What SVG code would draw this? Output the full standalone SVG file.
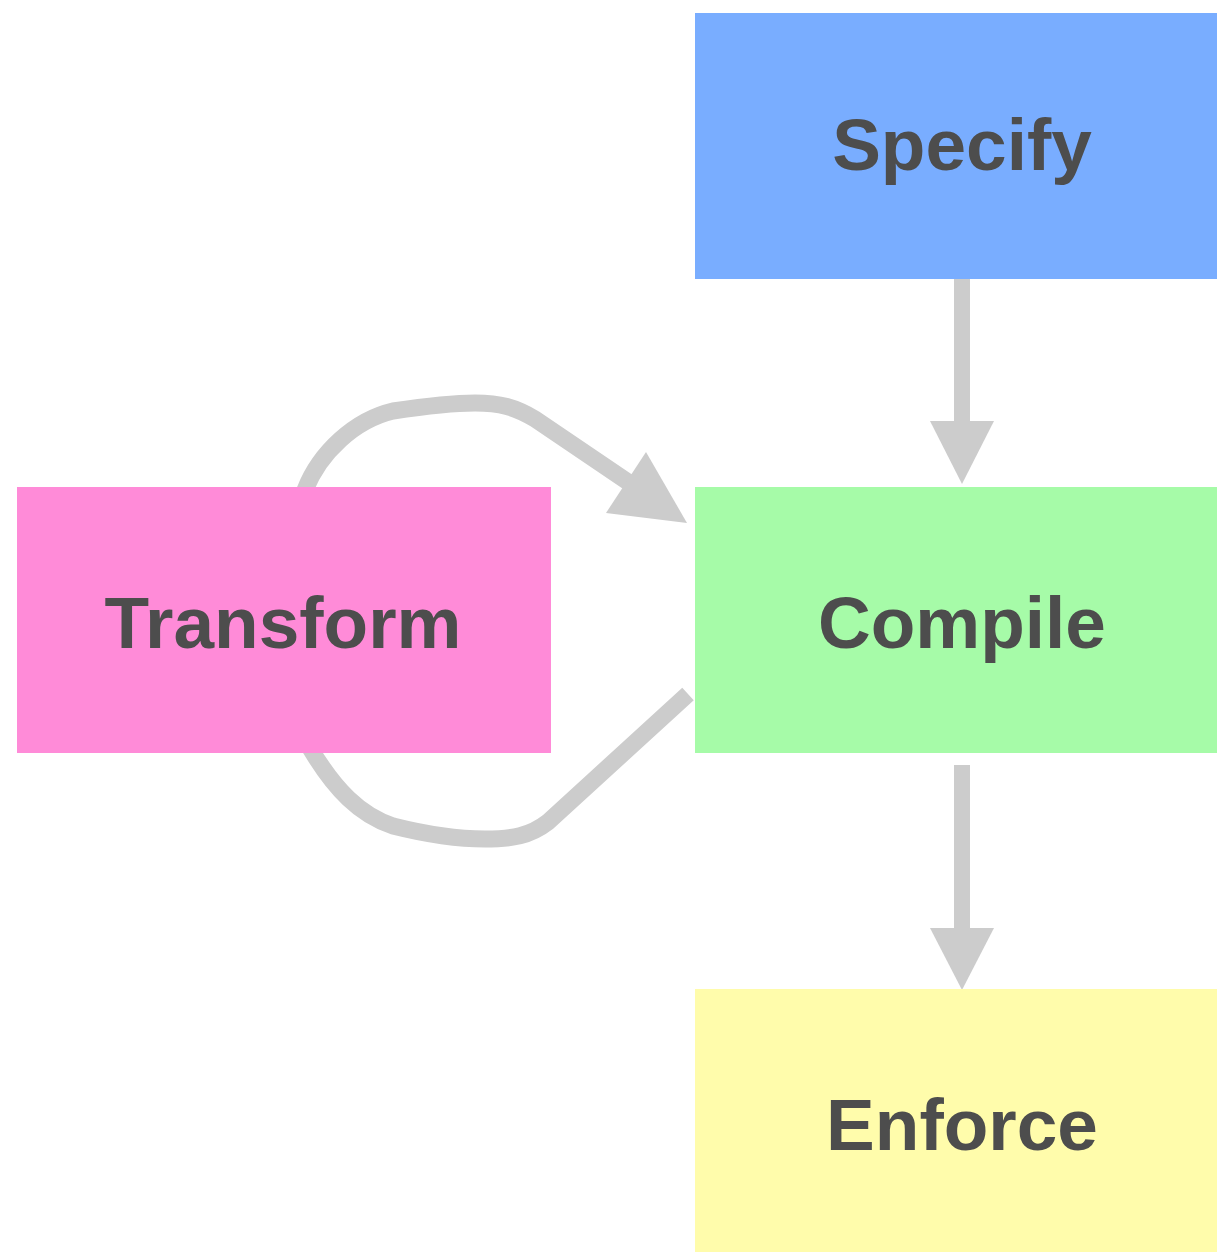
<svg xmlns="http://www.w3.org/2000/svg" width="1217" height="1252" viewBox="0 0 1217 1252">
  <style>
    .label { font-family: "Liberation Sans", Arial, sans-serif; font-weight: bold; font-size: 73px; fill: #4d4d4d; text-anchor: middle; }
    .edge { fill: none; stroke: #cccccc; stroke-width: 16; stroke-linecap: butt; stroke-linejoin: round; }
    .loop { stroke-width: 17; }
    .head { fill: #cccccc; }
  </style>
  <rect width="1217" height="1252" fill="#ffffff"/>

  <!-- connectors sit beneath the boxes so loop ends tuck under Transform -->
  <g id="connectors">
    <!-- Specify to Compile -->
    <line class="edge" x1="962" y1="277" x2="962" y2="424"/>
    <polygon class="head" points="930,421 994,421 962,484"/>
    <!-- Compile to Enforce -->
    <line class="edge" x1="962" y1="765" x2="962" y2="931"/>
    <polygon class="head" points="930,928 994,928 962,990"/>
    <!-- Transform loop into Compile -->
    <path class="edge loop" d="M 296 520 C 300 505 303 496 305 490 C 320 452 355 420 393 411 C 420 407 450 403 475 403 C 500 403 515 407 535 419 L 628 482"/>
    <polygon class="head" points="646,452 606,513 687,523"/>
    <!-- Compile back to Transform -->
    <path class="edge loop" d="M 688 694 L 548 822 C 530 836 512 839 485 839 C 455 839 425 834 393 826 C 360 815 335 790 310 748 L 298 725"/>
  </g>

  <g id="node-specify">
    <rect x="695" y="13" width="534" height="266" fill="#79adff"/>
    <text class="label" x="962" y="170">Specify</text>
  </g>
  <g id="node-compile">
    <rect x="695" y="487" width="534" height="266" fill="#a6fba8"/>
    <text class="label" x="962" y="648">Compile</text>
  </g>
  <g id="node-transform">
    <rect x="17" y="487" width="534" height="266" fill="#ff8bd8"/>
    <text class="label" x="283" y="648">Transform</text>
  </g>
  <g id="node-enforce">
    <rect x="695" y="989" width="534" height="275" fill="#fffcab"/>
    <text class="label" x="962" y="1150">Enforce</text>
  </g>
</svg>
